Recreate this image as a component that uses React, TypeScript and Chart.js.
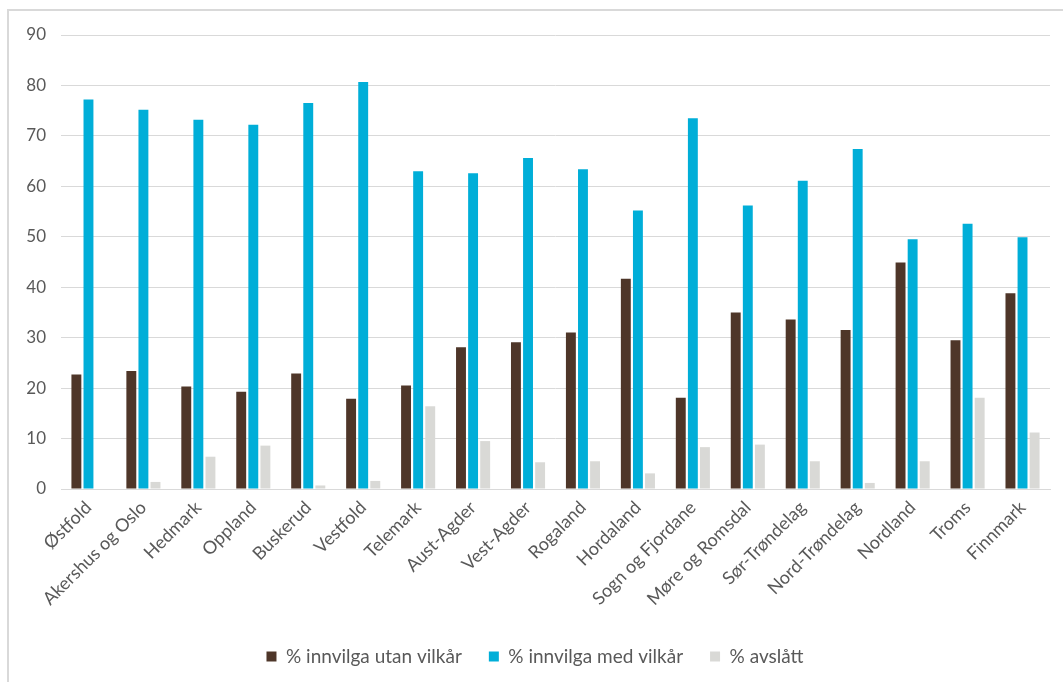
import React, { useEffect, useRef } from "react";
import { Chart, registerables } from "chart.js";

Chart.register(...registerables);

const counties = [
  "Østfold",
  "Akershus og Oslo",
  "Hedmark",
  "Oppland",
  "Buskerud",
  "Vestfold",
  "Telemark",
  "Aust-Agder",
  "Vest-Agder",
  "Rogaland",
  "Hordaland",
  "Sogn og Fjordane",
  "Møre og Romsdal",
  "Sør-Trøndelag",
  "Nord-Trøndelag",
  "Nordland",
  "Troms",
  "Finnmark",
];

const grantedWithout = [22.7, 23.4, 20.3, 19.3, 22.9, 17.9, 20.5, 28.1, 29.1, 31.0, 41.7, 18.1, 35.0, 33.6, 31.5, 44.9, 29.5, 38.8];
const grantedWith = [77.2, 75.2, 73.2, 72.2, 76.5, 80.7, 63.0, 62.6, 65.6, 63.4, 55.2, 73.5, 56.2, 61.1, 67.4, 49.5, 52.6, 49.9];
const rejected = [0, 1.4, 6.4, 8.6, 0.7, 1.6, 16.4, 9.5, 5.3, 5.5, 3.1, 8.3, 8.8, 5.5, 1.2, 5.5, 18.1, 11.2];

const seriesNames = ["% innvilga utan vilkår", "% innvilga med vilkår", "% avslått"];
const seriesColors = ["#4E3629", "#00AED8", "#D9D9D6"];

const yTicks = [0, 10, 20, 30, 40, 50, 60, 70, 80, 90];

const FONT = "Lato, 'Open Sans', sans-serif";
const TEXT = "#595959";

export default function App() {
  const canvasRef = useRef<HTMLCanvasElement | null>(null);

  useEffect(() => {
    if (!canvasRef.current) return;
    const values = [grantedWithout, grantedWith, rejected];
    const chart = new Chart(canvasRef.current, {
      type: "bar",
      data: {
        labels: counties,
        datasets: values.map((data, i) => ({
          label: seriesNames[i],
          data,
          backgroundColor: seriesColors[i],
          borderWidth: 0,
          categoryPercentage: 0.66,
          barPercentage: 0.82,
        })),
      },
      options: {
        animation: false,
        responsive: false,
        maintainAspectRatio: false,
        layout: { padding: { left: 20, right: 13, top: 35, bottom: 6 } },
        plugins: {
          tooltip: { enabled: false },
          legend: {
            position: "bottom",
            labels: {
              boxWidth: 10,
              boxHeight: 10,
              padding: 27,
              color: TEXT,
              font: { family: FONT, size: 19 },
            },
          },
        },
        scales: {
          x: {
            grid: { display: false, drawTicks: false },
            border: { display: true, color: "#D9D9D9", width: 1 },
            ticks: {
              autoSkip: false,
              minRotation: 45,
              maxRotation: 45,
              padding: 8,
              color: TEXT,
              font: { family: FONT, size: 18 },
            },
            afterFit: (scale: any) => {
              scale.height = 131;
            },
          },
          y: {
            min: 0,
            max: 90,
            afterBuildTicks: (scale: any) => {
              scale.ticks = yTicks.map((v) => ({ value: v }));
            },
            grid: { color: "#D9D9D9", lineWidth: 1, drawTicks: false },
            border: { display: false },
            ticks: {
              padding: 15,
              color: TEXT,
              font: { family: FONT, size: 17 },
            },
            afterFit: (scale: any) => {
              scale.width = 41;
            },
          },
        },
      },
    });
    return () => chart.destroy();
  }, []);

  return (
    <div
      style={{
        position: "absolute",
        left: 0,
        top: 0,
        width: 1063,
        height: 682,
        overflow: "hidden",
        background: "#ffffff",
      }}
    >
      <div
        style={{
          position: "absolute",
          left: 7,
          top: 9,
          width: 1080,
          height: 700,
          border: "2px solid #D9D9D9",
          boxSizing: "border-box",
        }}
      />
      <canvas
        ref={canvasRef}
        width={1063}
        height={682}
        style={{ position: "absolute", left: 0, top: 0 }}
      />
    </div>
  );
}
